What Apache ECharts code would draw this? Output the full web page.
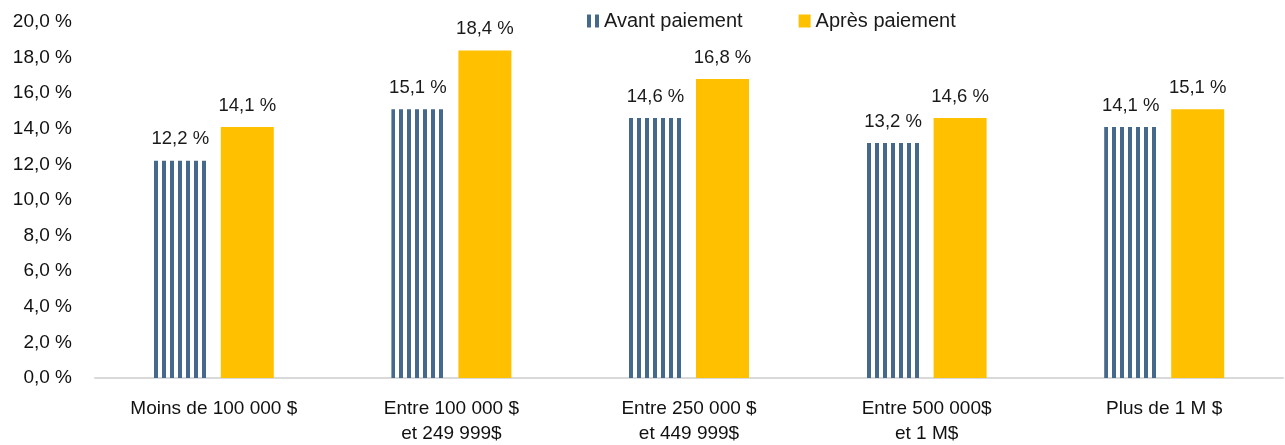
<!DOCTYPE html>
<html><head><meta charset="utf-8">
<script src="https://cdn.jsdelivr.net/npm/echarts@6/dist/echarts.min.js"></script>
<style>html,body{margin:0;padding:0;background:#fff}#c{width:1285px;height:445px}</style>
</head><body><div id="c"></div>
<script>
const categories = ['Moins de 100 000 $', 'Entre 100 000 $\net 249 999$', 'Entre 250 000 $\net 449 999$', 'Entre 500 000$\net 1 M$', 'Plus de 1 M $'];
const avantValues = [12.2, 15.1, 14.6, 13.2, 14.1];
const apresValues = [14.1, 18.4, 16.8, 14.6, 15.1];
const seriesNames = ['Avant paiement', 'Après paiement'];

const BLUE = '#44698c';
const YELLOW = '#ffc000';
const pc = document.createElement('canvas');
pc.width = 8; pc.height = 8;
const ctx = pc.getContext('2d');
ctx.fillStyle = BLUE;
ctx.fillRect(0, 0, 4, 8);
const stripe = x => ({ image: pc, repeat: 'repeat', x: x, y: 0 });

const fmt = v => v.toFixed(1).replace('.', ',') + ' %';
const font = '"Liberation Sans", Arial, sans-serif';
const BAR_W = 53, GAP = 14;

const chart = echarts.init(document.getElementById('c'));
function build(offsets) {
  return {
    animation: false,
    textStyle: { fontFamily: font },
    legend: {
      top: 6, left: 582, itemWidth: 12, itemHeight: 13, itemGap: 56, itemTextGap: 3, icon: 'rect',
      textStyle: { fontSize: 20, color: '#1a1a1a', fontFamily: font },
      data: seriesNames
    },
    grid: { left: 95, right: 2, top: 22, bottom: 67, containLabel: false, outerBoundsMode: 'none' },
    xAxis: {
      type: 'category', data: categories,
      axisLine: { lineStyle: { color: '#d9d9d9', width: 2 } },
      axisTick: { show: false },
      axisLabel: { interval: 0, fontSize: 19, color: '#111', lineHeight: 25, margin: 18, fontFamily: font }
    },
    yAxis: {
      type: 'value', min: 0, max: 20, interval: 2,
      splitLine: { show: false },
      axisLine: { show: false }, axisTick: { show: false },
      axisLabel: { fontSize: 19, color: '#111', margin: 23, formatter: v => fmt(v), fontFamily: font }
    },
    series: [
      {
        name: seriesNames[0], type: 'bar', barWidth: BAR_W, barGap: (GAP / BAR_W * 100) + '%',
        data: avantValues.map((v, i) => ({ value: v, itemStyle: { color: stripe(offsets ? offsets[i] : 0) } })),
        itemStyle: { color: stripe(0) },
        label: { show: true, position: 'top', distance: 12, fontSize: 18.5, color: '#1a1a1a', formatter: p => fmt(p.value), fontFamily: font }
      },
      {
        name: seriesNames[1], type: 'bar', data: apresValues, barWidth: BAR_W,
        itemStyle: { color: YELLOW },
        label: { show: true, position: 'top', distance: 12, fontSize: 18.5, color: '#1a1a1a', formatter: p => fmt(p.value), fontFamily: font }
      }
    ]
  };
}
chart.setOption(build(null));
const offsets = categories.map((c, i) => {
  const center = chart.convertToPixel({ xAxisIndex: 0 }, i);
  return Math.round(center - GAP / 2 - BAR_W);
});
chart.setOption(build(offsets));
</script></body></html>
